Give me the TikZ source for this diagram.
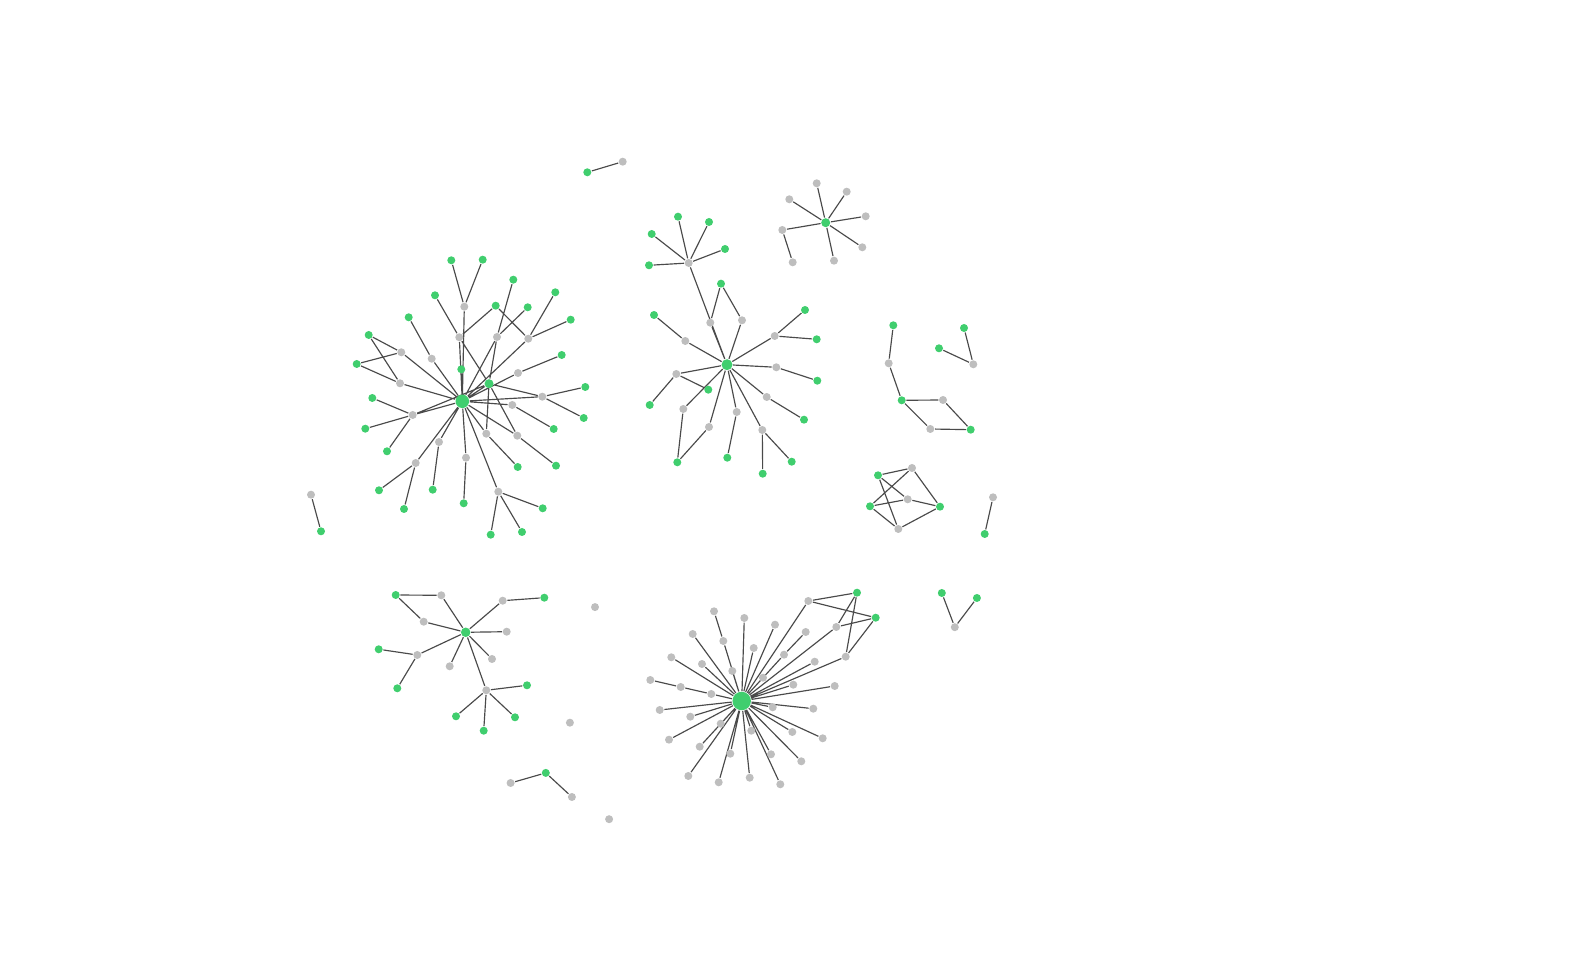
\documentclass[tikz,border=0pt]{standalone}
\usepackage{tikz}
\usetikzlibrary{backgrounds}
\definecolor{nodegreen}{RGB}{64,206,110}
\definecolor{nodegrey}{RGB}{190,190,190}
\definecolor{edgegrey}{RGB}{74,74,74}

\begin{document}
\begin{tikzpicture}[
  x=0.01cm, y=-0.01cm,
  dot/.style={circle, inner sep=0pt, minimum size=0.08cm},
  greendot/.style={dot, fill=nodegreen},
  greydot/.style={dot, fill=nodegrey},
  hubdot/.style={greendot, minimum size=#1},
  link/.style={draw=edgegrey, line width=0.33pt},
]
\useasboundingbox (0,0) rectangle (1576,971);

% Left star
\node[hubdot=0.135cm] (hA) at (462.3,401.3) {};
\node[greendot] (ga1) at (451.3,260.3) {};
\node[greendot] (ga2) at (482.7,259.7) {};
\node[greendot] (ga3) at (513.3,279.7) {};
\node[greendot] (ga4) at (555.3,292.3) {};
\node[greendot] (ga5) at (435,295.3) {};
\node[greendot] (ga6) at (495.7,305.7) {};
\node[greendot] (ga7) at (527.7,307.3) {};
\node[greendot] (ga8) at (570.7,319.7) {};
\node[greendot] (ga9) at (408.7,317.3) {};
\node[greendot] (ga10) at (368.7,335) {};
\node[greendot] (ga11) at (356.7,364) {};
\node[greendot] (ga12) at (461.3,369.3) {};
\node[greendot] (ga13) at (561.7,355) {};
\node[hubdot=0.09cm] (ga14) at (489,383.7) {};
\node[greendot] (ga15) at (585.3,387) {};
\node[greendot] (ga16) at (372.3,398) {};
\node[greendot] (ga17) at (583.7,418) {};
\node[greendot] (ga18) at (365.3,428.7) {};
\node[greendot] (ga19) at (553.7,429) {};
\node[greendot] (ga20) at (387,451.3) {};
\node[greendot] (ga21) at (517.7,467) {};
\node[greendot] (ga22) at (556,465.7) {};
\node[greendot] (ga23) at (379,490.3) {};
\node[greendot] (ga24) at (432.7,489.7) {};
\node[greendot] (ga25) at (463.7,503.3) {};
\node[greendot] (ga26) at (404,509) {};
\node[greendot] (ga27) at (542.7,508.3) {};
\node[greendot] (ga28) at (490.7,534.7) {};
\node[greendot] (ga29) at (522,532) {};
\node[greydot] (a1) at (464.3,306.7) {};
\node[greydot] (a2) at (459.3,337.3) {};
\node[greydot] (a3) at (497,337) {};
\node[greydot] (a4) at (528.3,338.7) {};
\node[greydot] (a5) at (401.3,352.3) {};
\node[greydot] (a6) at (431.7,358.7) {};
\node[greydot] (a7) at (518,373) {};
\node[greydot] (a8) at (400,383.3) {};
\node[greydot] (a9) at (542.3,396.7) {};
\node[greydot] (a10) at (512.3,405) {};
\node[greydot] (a11) at (412.7,415) {};
\node[greydot] (a12) at (486.3,433.7) {};
\node[greydot] (a13) at (517.3,435.7) {};
\node[greydot] (a14) at (439,442) {};
\node[greydot] (a15) at (466,457.7) {};
\node[greydot] (a16) at (415.7,463) {};
\node[greydot] (a17) at (498.3,491.7) {};

% Top centre star
\node[hubdot=0.11cm] (hB) at (727,364.7) {};
\node[greendot] (gb1) at (678,216.7) {};
\node[greendot] (gb2) at (709,222) {};
\node[greendot] (gb3) at (651.7,234) {};
\node[greendot] (gb4) at (725,249) {};
\node[greendot] (gb5) at (649,265.3) {};
\node[greendot] (gb6) at (721,283.7) {};
\node[greendot] (gb7) at (654,315) {};
\node[greendot] (gb8) at (805,310) {};
\node[greendot] (gb9) at (816.7,339.3) {};
\node[greendot] (gb10) at (817.3,380.7) {};
\node[greendot] (gb11) at (708.3,389.7) {};
\node[greendot] (gb12) at (649.7,405) {};
\node[greendot] (gb13) at (804,419.7) {};
\node[greendot] (gb14) at (677.3,462.3) {};
\node[greendot] (gb15) at (727.3,457.7) {};
\node[greendot] (gb16) at (791.7,461.7) {};
\node[greendot] (gb17) at (762.7,473.7) {};
\node[greydot] (b1) at (688.7,263) {};
\node[greydot] (b2) at (710.3,322.7) {};
\node[greydot] (b3) at (742,320.3) {};
\node[greydot] (b4) at (685.3,341) {};
\node[greydot] (b5) at (774.7,336) {};
\node[greydot] (b6) at (776.3,367.3) {};
\node[greydot] (b7) at (676.3,374) {};
\node[greydot] (b8) at (766.7,397) {};
\node[greydot] (b9) at (683.3,409) {};
\node[greydot] (b10) at (736.7,412) {};
\node[greydot] (b11) at (709,427) {};
\node[greydot] (b12) at (762.3,430) {};

% Top right star
\node[hubdot=0.09cm] (hD) at (825.7,222.7) {};
\node[greydot] (d1) at (816.7,183.3) {};
\node[greydot] (d2) at (846.7,191.7) {};
\node[greydot] (d3) at (789.3,199.3) {};
\node[greydot] (d4) at (865.7,216.3) {};
\node[greydot] (d5) at (782.3,230) {};
\node[greydot] (d6) at (862.3,247.3) {};
\node[greydot] (d7) at (792.7,262.3) {};
\node[greydot] (d8) at (834,260.7) {};

% Bottom left star
\node[hubdot=0.095cm] (hE) at (465.7,632.3) {};
\node[greendot] (ge1) at (395.7,595) {};
\node[greendot] (ge2) at (544.3,597.7) {};
\node[greendot] (ge3) at (378.7,649.3) {};
\node[greendot] (ge4) at (397.3,688.3) {};
\node[greendot] (ge5) at (527,685.3) {};
\node[greendot] (ge6) at (456,716.3) {};
\node[greendot] (ge7) at (515,717.3) {};
\node[greendot] (ge8) at (483.7,730.7) {};
\node[greydot] (e1) at (441.3,595.3) {};
\node[greydot] (e2) at (502.7,600.7) {};
\node[greydot] (e3) at (423.7,621.7) {};
\node[greydot] (e4) at (506.7,631.7) {};
\node[greydot] (e5) at (417.3,655) {};
\node[greydot] (e6) at (449.7,666.3) {};
\node[greydot] (e7) at (492,659) {};
\node[greydot] (e8) at (486.3,690.3) {};

% Bottom centre star
\node[hubdot=0.185cm] (hF) at (741.7,701) {};
\node[greendot] (gf1) at (857,592.7) {};
\node[greendot] (gf2) at (875.7,617.7) {};
\node[greydot] (f1) at (808.3,601) {};
\node[greydot] (f2) at (714,611.3) {};
\node[greydot] (f3) at (744.3,618) {};
\node[greydot] (f4) at (775,624.7) {};
\node[greydot] (f5) at (692.7,634) {};
\node[greydot] (f6) at (805.7,632) {};
\node[greydot] (f7) at (836.3,627) {};
\node[greydot] (f8) at (723.3,641) {};
\node[greydot] (f9) at (753.7,648) {};
\node[greydot] (f10) at (671.3,657.3) {};
\node[greydot] (f11) at (784,654.7) {};
\node[greydot] (f12) at (702,664) {};
\node[greydot] (f13) at (814.7,661.7) {};
\node[greydot] (f14) at (845.7,656.7) {};
\node[greydot] (f15) at (732.3,671) {};
\node[greydot] (f16) at (763,677.7) {};
\node[greydot] (f17) at (650.3,680) {};
\node[greydot] (f18) at (680.7,687) {};
\node[greydot] (f19) at (793.3,684.7) {};
\node[greydot] (f20) at (834.7,686) {};
\node[greydot] (f21) at (711.3,694) {};
\node[greydot] (f22) at (659.7,710) {};
\node[greydot] (f23) at (772.7,707.3) {};
\node[greydot] (f24) at (813.3,708.7) {};
\node[greydot] (f25) at (690.3,716.7) {};
\node[greydot] (f26) at (720.7,723.7) {};
\node[greydot] (f27) at (751.3,730.7) {};
\node[greydot] (f28) at (792.3,732) {};
\node[greydot] (f29) at (822.7,738.3) {};
\node[greydot] (f30) at (669,739.7) {};
\node[greydot] (f31) at (699.7,746.7) {};
\node[greydot] (f32) at (730.3,753.7) {};
\node[greydot] (f33) at (771,754.3) {};
\node[greydot] (f34) at (801.3,761.3) {};
\node[greydot] (f35) at (688.3,776) {};
\node[greydot] (f36) at (718.7,782.3) {};
\node[greydot] (f37) at (749.7,777.7) {};
\node[greydot] (f38) at (780.3,784.3) {};

% Right side small parts
\node[greendot] (gr1) at (893.3,325.3) {};
\node[greydot] (r1) at (888.7,363.3) {};
\node[greendot] (gr2) at (901.7,400.3) {};
\node[greydot] (r2) at (943,400) {};
\node[greydot] (r3) at (930.3,429) {};
\node[greendot] (gr3) at (970.7,429.7) {};
\node[greendot] (gr4) at (964,328) {};
\node[greendot] (gr5) at (939,348.3) {};
\node[greydot] (r4) at (973.3,364.3) {};
\node[greendot] (gk1) at (878,475.3) {};
\node[greendot] (gk2) at (870,506.3) {};
\node[greendot] (gk3) at (940,506.7) {};
\node[greydot] (k1) at (912,468) {};
\node[greydot] (k2) at (907.7,499.3) {};
\node[greydot] (k3) at (898.3,529) {};
\node[greydot] (r5) at (993,497.3) {};
\node[greendot] (gr6) at (984.7,534) {};
\node[greendot] (gr7) at (941.8,593) {};
\node[greendot] (gr8) at (976.9,598) {};
\node[greydot] (r6) at (954.8,627.2) {};

% Loose pairs and singles
\node[greendot] (gp1) at (587.3,172.3) {};
\node[greydot] (p1) at (622.7,161.7) {};
\node[greydot] (p2) at (311,494.7) {};
\node[greendot] (gp2) at (321,531.3) {};
\node[greendot] (gp3) at (545.8,772.9) {};
\node[greydot] (p3) at (510.6,783) {};
\node[greydot] (p4) at (571.9,797) {};
\node[greydot] (s1) at (595,607.1) {};
\node[greydot] (s2) at (569.9,722.7) {};
\node[greydot] (s3) at (609.1,819.2) {};

% Edges
\begin{scope}[on background layer]
\draw[link] (ga1)--(a1) (ga2)--(a1) (a1)--(hA)
  (ga5)--(a2) (ga6)--(a2) (a2)--(hA) (a2)--(ga14)
  (ga3)--(a3) (ga7)--(a3) (a3)--(hA) (a3)--(ga14)
  (ga6)--(a4) (ga4)--(a4) (ga8)--(a4) (a4)--(hA)
  (ga9)--(a6) (a6)--(hA)
  (ga10)--(a5) (ga11)--(a5) (a5)--(hA)
  (ga10)--(a8) (ga11)--(a8) (a8)--(hA)
  (ga12)--(hA) (ga13)--(a7) (a7)--(hA)
  (ga14)--(hA) (ga14)--(a9) (ga14)--(a12) (ga14)--(a13) (ga14)--(a11)
  (ga15)--(a9) (ga17)--(a9) (a9)--(hA)
  (ga19)--(a10) (a10)--(hA)
  (ga16)--(a11) (ga18)--(a11) (ga20)--(a11) (a11)--(hA)
  (ga21)--(a12) (a12)--(hA)
  (ga22)--(a13) (a13)--(hA)
  (ga24)--(a14) (a14)--(hA)
  (ga25)--(a15) (a15)--(hA)
  (ga23)--(a16) (ga26)--(a16) (a16)--(hA)
  (ga27)--(a17) (ga28)--(a17) (ga29)--(a17) (a17)--(hA);
\draw[link] (b1)--(gb1) (b1)--(gb2) (b1)--(gb3) (b1)--(gb4) (b1)--(gb5) (b1)--(hB)
  (b2)--(gb6) (b2)--(hB) (b3)--(gb6) (b3)--(hB)
  (b4)--(gb7) (b4)--(hB)
  (b5)--(gb8) (b5)--(gb9) (b5)--(hB)
  (b6)--(gb10) (b6)--(hB)
  (b7)--(gb11) (b7)--(gb12) (b7)--(hB)
  (b8)--(gb13) (b8)--(hB)
  (b9)--(gb14) (b9)--(hB)
  (b10)--(gb15) (b10)--(hB)
  (b11)--(gb14) (b11)--(hB)
  (b12)--(gb16) (b12)--(gb17) (b12)--(hB);
\draw[link] (hD)--(d1) (hD)--(d2) (hD)--(d3) (hD)--(d4) (hD)--(d5)
  (hD)--(d6) (hD)--(d8) (d5)--(d7);
\draw[link] (ge1)--(e1) (ge1)--(e3) (e1)--(hE) (e3)--(hE)
  (e2)--(hE) (e2)--(ge2) (e4)--(hE)
  (e5)--(hE) (e5)--(ge3) (e5)--(ge4)
  (e6)--(hE) (e7)--(hE) (e8)--(hE)
  (e8)--(ge5) (e8)--(ge6) (e8)--(ge7) (e8)--(ge8);
\draw[link] (f1)--(hF) (f1)--(gf1) (f1)--(gf2)
  (f7)--(gf1) (f7)--(gf2) (f14)--(gf1) (f14)--(gf2)
  (f2)--(f8) (f8)--(hF) (f6)--(f11) (f11)--(hF)
  (f17)--(f18) (f18)--(f21) (f21)--(hF)
  (f3)--(hF) (f4)--(hF) (f5)--(hF) (f7)--(hF) (f9)--(hF)
  (f10)--(hF) (f12)--(hF) (f13)--(hF) (f14)--(hF) (f15)--(hF)
  (f16)--(hF) (f19)--(hF) (f20)--(hF) (f22)--(hF) (f23)--(hF)
  (f24)--(hF) (f25)--(hF) (f26)--(hF) (f27)--(hF) (f28)--(hF)
  (f29)--(hF) (f30)--(hF) (f31)--(hF) (f32)--(hF) (f33)--(hF)
  (f34)--(hF) (f35)--(hF) (f36)--(hF) (f37)--(hF) (f38)--(hF);
\draw[link] (gr1)--(r1) (r1)--(gr2) (gr2)--(r2) (gr2)--(r3)
  (r2)--(gr3) (r3)--(gr3) (gr4)--(r4) (gr5)--(r4)
  (gk1)--(k1) (gk1)--(k2) (gk1)--(k3)
  (gk2)--(k1) (gk2)--(k2) (gk2)--(k3)
  (gk3)--(k1) (gk3)--(k2) (gk3)--(k3)
  (r5)--(gr6) (gr7)--(r6) (gr8)--(r6);
\draw[link] (gp1)--(p1) (p2)--(gp2) (gp3)--(p3) (gp3)--(p4);
\end{scope}

\end{tikzpicture}
\end{document}
